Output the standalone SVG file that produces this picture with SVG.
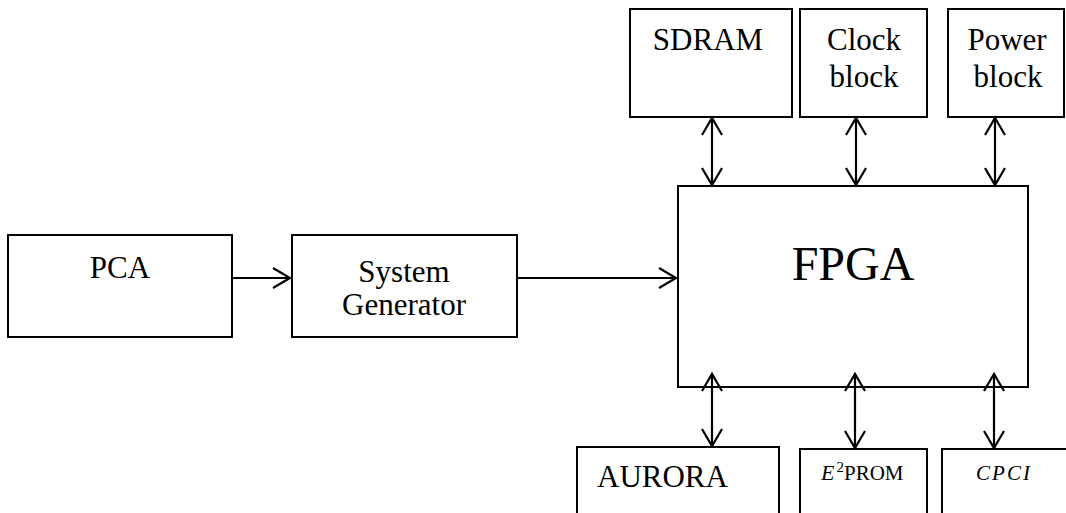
<svg xmlns="http://www.w3.org/2000/svg" width="1066" height="513" viewBox="0 0 1066 513">
<style>
.box{fill:#fff;stroke:#000;stroke-width:2}
.lbl{font-family:"Liberation Serif","Times New Roman",serif;font-size:31px;fill:#000}
.mid{text-anchor:middle}
.sm{font-family:"Liberation Serif","Times New Roman",serif;font-size:21px;fill:#000}
.conn{stroke:#000;stroke-width:2.2;fill:none}
</style>
<defs>
<marker id="ah" markerUnits="userSpaceOnUse" markerWidth="22" markerHeight="24" refX="18" refY="11" orient="auto-start-reverse">
<path d="M1,1 L18,11 L1,21" fill="none" stroke="#000" stroke-width="2.2"/>
</marker>
</defs>
<rect width="1066" height="513" fill="#fff"/>
<g id="pca"><rect class="box" x="8" y="235" width="224" height="102"/><text class="lbl mid" x="120" y="278">PCA</text></g>
<g id="sysgen"><rect class="box" x="292" y="235" width="225" height="102"/><text class="lbl mid" x="404" y="282">System</text><text class="lbl mid" x="404" y="315">Generator</text></g>
<g id="fpga"><rect class="box" x="678" y="186" width="350" height="201"/><text class="mid" x="853" y="280" style="font-family:'Liberation Serif','Times New Roman',serif;font-size:48px">FPGA</text></g>
<g id="sdram"><rect class="box" x="630" y="9" width="162" height="108"/><text class="lbl mid" x="708" y="50">SDRAM</text></g>
<g id="clock"><rect class="box" x="800" y="9" width="127" height="108"/><text class="lbl mid" x="864" y="50">Clock</text><text class="lbl mid" x="864" y="87">block</text></g>
<g id="power"><rect class="box" x="948" y="9" width="116" height="108"/><text class="lbl mid" x="1007" y="50">Power</text><text class="lbl mid" x="1008" y="87">block</text></g>
<g id="aurora"><rect class="box" x="577" y="447" width="202" height="80"/><text class="lbl" x="597" y="487">AURORA</text></g>
<g id="e2prom"><rect class="box" x="800" y="449" width="127" height="80"/><text class="sm" x="821" y="480"><tspan font-style="italic" font-size="22">E</tspan><tspan font-size="15" dy="-8" dx="2">2</tspan><tspan dy="8">PROM</tspan></text></g>
<g id="cpci"><rect class="box" x="942" y="449" width="130" height="80"/><text class="sm mid" x="1004" y="480" font-style="italic" font-size="22" letter-spacing="2">CPCI</text></g>
<g id="connectors">
<line class="conn" x1="232" y1="278" x2="290" y2="278" marker-end="url(#ah)"/>
<line class="conn" x1="517" y1="278" x2="676" y2="278" marker-end="url(#ah)"/>
<line class="conn" x1="712" y1="118" x2="712" y2="185" marker-start="url(#ah)" marker-end="url(#ah)"/>
<line class="conn" x1="856" y1="118" x2="856" y2="185" marker-start="url(#ah)" marker-end="url(#ah)"/>
<line class="conn" x1="995" y1="118" x2="995" y2="185" marker-start="url(#ah)" marker-end="url(#ah)"/>
<line class="conn" x1="712" y1="374" x2="712" y2="446" marker-start="url(#ah)" marker-end="url(#ah)"/>
<line class="conn" x1="855" y1="374" x2="855" y2="448" marker-start="url(#ah)" marker-end="url(#ah)"/>
<line class="conn" x1="994" y1="374" x2="994" y2="448" marker-start="url(#ah)" marker-end="url(#ah)"/>
</g>
</svg>
